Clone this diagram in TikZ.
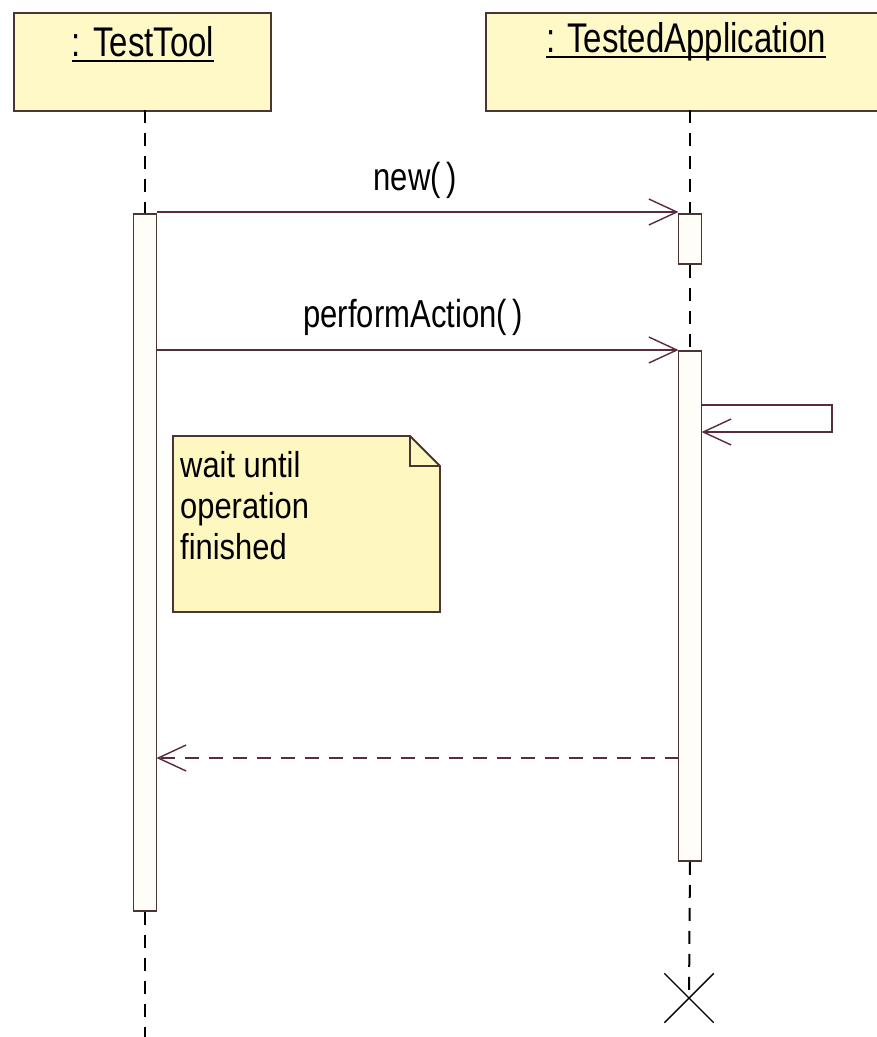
\documentclass[tikz,border=0pt]{standalone}
\usepackage{fontspec}
\setmainfont{Liberation Sans}
\usetikzlibrary{arrows.meta,shapes.misc}
\definecolor{boxfill}{HTML}{FFF9C8}
\definecolor{notefill}{HTML}{FFF7C0}
\definecolor{edgecol}{HTML}{5A2A3E}
\definecolor{bordercol}{HTML}{4A3434}
\definecolor{barfill}{HTML}{FFFDF8}
\newcommand{\tallt}[1]{\scalebox{0.97}[1.22]{#1}}
\tikzset{
  objbox/.style={draw=bordercol, line width=2pt, fill=boxfill, rectangle, inner sep=0pt},
  objlabel/.style={font=\fontsize{34}{40}\selectfont, text=black, inner sep=0pt},
  lifeline/.style={draw=black, line width=2pt, dash pattern=on 13pt off 10pt},
  actbar/.style={draw=bordercol, line width=1.8pt, fill=barfill, rectangle, inner sep=0pt, minimum width=23pt},
  msg/.style={draw=edgecol, line width=1.6pt, -{Straight Barb[length=28pt,width=26pt,line width=1.4pt]}},
  retmsg/.style={draw=edgecol, line width=1.8pt, dash pattern=on 14pt off 10pt, -{Straight Barb[length=28pt,width=26pt,line width=1.4pt]}},
  msglabel/.style={font=\fontsize{32}{38}\selectfont, text=black, inner sep=0pt},
  notetext/.style={font=\fontsize{30}{34}\selectfont, text=black, inner sep=0pt, anchor=north west},
  xmark/.style={cross out, draw=black, line width=1.4pt, minimum size=48pt, inner sep=0pt},
  uline/.style={draw=black, line width=2pt}
}
\begin{document}
\begin{tikzpicture}[x=1pt,y=-1pt]
\useasboundingbox[fill=white] (0,0) rectangle (877,1037);

% object boxes
\node[objbox, minimum width=257pt, minimum height=98pt, anchor=north west] (tt) at (13,12) {};
\node[objbox, minimum width=392pt, minimum height=98pt, anchor=north west] (ta) at (485,12) {};
\node[objlabel] (ttlbl) at (143,42) {\tallt{: TestTool}};
\node[objlabel] (talbl) at (686,42) {\tallt{: TestedApplication}};
\draw[uline] ([yshift=-4pt]ttlbl.base west) -- ([yshift=-4pt]ttlbl.base east);
\draw[uline] ([yshift=-4pt]talbl.base west) -- ([yshift=-4pt]talbl.base east);

% activation bars
\node[actbar, minimum height=697pt, anchor=north] (barA) at (145,213) {};
\node[actbar, minimum height=50pt, anchor=north] (barB1) at (690,213) {};
\node[actbar, minimum height=510pt, anchor=north] (barB2) at (690,350) {};

% lifelines
\coordinate (ttTop) at (145,110);
\coordinate (ttEnd) at (145,1037);
\coordinate (taTop) at (690,110);
\node[xmark] (xend) at (689,998) {};
\draw[lifeline] (ttTop) -- (barA.north);
\draw[lifeline] (barA.south) -- (ttEnd);
\draw[lifeline] (taTop) -- (barB1.north);
\draw[lifeline] (barB1.south) -- (barB2.north);
\draw[lifeline] (barB2.south) -- (xend.center);

% messages
\coordinate (m1s) at (156.5,212);
\coordinate (m1e) at (678.5,212);
\draw[msg] (m1s) -- (m1e);
\node[msglabel] (m1lbl) at (415,180) {\tallt{new(\,)}};

\coordinate (m2s) at (156.5,350);
\coordinate (m2e) at (678.5,350);
\draw[msg] (m2s) -- (m2e);
\node[msglabel] (m2lbl) at (413,317) {\tallt{performAction(\,)}};

% self call
\coordinate (s0) at (701.5,405);
\coordinate (s1) at (832,405);
\coordinate (s2) at (832,432);
\coordinate (s3) at (701.5,432);
\draw[msg] (s0) -- (s1) -- (s2) -- (s3);

% note
\draw[draw=bordercol, line width=1.8pt, fill=notefill] (173,436) -- (410,436) -- (440,466) -- (440,612) -- (173,612) -- cycle;
\draw[draw=bordercol, line width=1.6pt] (410,436) -- (410,466) -- (440,466);
\node[notetext] (note) at (180,449) {\scalebox{1.03}[1.2]{\begin{tabular}{@{}l@{}}wait until\\operation\\finished\end{tabular}}};

% return
\coordinate (r0) at (678.5,758);
\coordinate (r1) at (156.5,758);
\draw[retmsg] (r0) -- (r1);
\end{tikzpicture}
\end{document}
